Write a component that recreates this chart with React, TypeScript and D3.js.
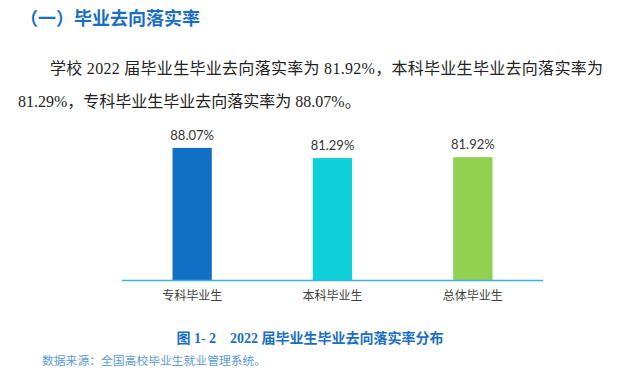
import React from "react";
import * as d3 from "d3";

const categories = ["专科毕业生", "本科毕业生", "总体毕业生"];
const values = [88.07, 81.29, 81.92];
const valueLabels = ["88.07%", "81.29%", "81.92%"];
const barColors = ["#1170c6", "#0dd0d8", "#92d050"];

const title = "（一）毕业去向落实率";
const para1 = "学校 2022 届毕业生毕业去向落实率为 81.92%，本科毕业生毕业去向落实率为";
const para2 = "81.29%，专科毕业生毕业去向落实率为 88.07%。";
const caption = "图 1- 2    2022 届毕业生毕业去向落实率分布";
const source = "数据来源：全国高校毕业生就业管理系统。";

export default function App() {
  const W = 628, H = 378;
  const x = d3.scaleBand<string>().domain(categories).range([122, 543]).paddingInner(0.72).paddingOuter(0.36);
  const y = d3.scaleLinear().domain([0, 100]).range([280, 130]);
  const serif = "'Liberation Serif', 'Noto Sans CJK SC', serif";
  const cjk = "'Noto Sans CJK SC', sans-serif";
  return (
    <svg width={W} height={H} style={{ position: "absolute", left: 0, top: 0, background: "#fff" }}>
      <text x={20} y={25} fontFamily={cjk} fontWeight={700} fontSize={18} fill="#1a6fc4">{title}</text>
      <text x={50} y={74} fontFamily={serif} fontSize={16} fill="#222" textLength={553} lengthAdjust="spacing">{para1}</text>
      <text x={18} y={107} fontFamily={serif} fontSize={16} fill="#222">{para2}</text>
      {categories.map((c, i) => (
        <g key={c}>
          <rect x={x(c)} y={y(values[i])} width={x.bandwidth()} height={y(0) - y(values[i])} fill={barColors[i]} />
          <text x={(x(c) as number) + x.bandwidth() / 2} y={y(values[i]) - 8} textAnchor="middle" fontFamily="Lato, 'Open Sans', sans-serif" fontSize={13} fill="#333">{valueLabels[i]}</text>
          <text x={(x(c) as number) + x.bandwidth() / 2} y={300} textAnchor="middle" fontFamily={cjk} fontSize={12} fill="#404040">{c}</text>
        </g>
      ))}
      <line x1={122} x2={543} y1={280.5} y2={280.5} stroke="#3fb0e6" strokeWidth={1.5} />
      <text x={310} y={343} textAnchor="middle" fontFamily={serif} fontWeight={700} fontSize={14} fill="#1a6fc4" xmlSpace="preserve">{caption}</text>
      <text x={42} y={365} fontFamily={cjk} fontSize={11.8} fill="#5b9bd5">{source}</text>
    </svg>
  );
}
